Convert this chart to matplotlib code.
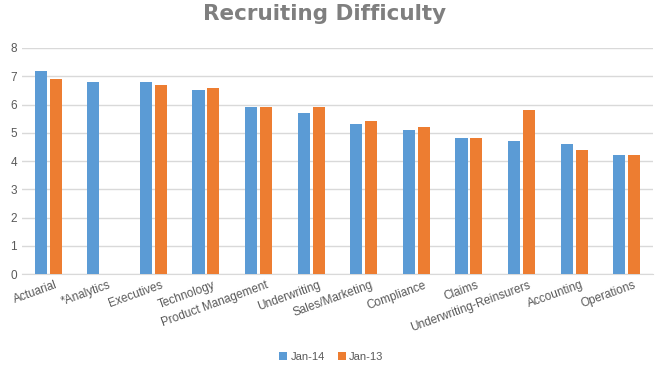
import numpy as np
import matplotlib.pyplot as plt
import matplotlib.transforms as mtransforms

categories = ['Actuarial', '*Analytics', 'Executives', 'Technology', 'Product Management',
              'Underwriting', 'Sales/Marketing', 'Compliance', 'Claims',
              'Underwriting-Reinsurers', 'Accounting', 'Operations']
jan14 = [7.2, 6.8, 6.8, 6.5, 5.9, 5.7, 5.3, 5.1, 4.8, 4.7, 4.6, 4.2]
jan13 = [6.9, np.nan, 6.7, 6.6, 5.9, 5.9, 5.4, 5.2, 4.8, 5.8, 4.4, 4.2]

blue = '#5b9bd5'
orange = '#ed7d31'
gray = '#595959'

plt.rcParams['font.family'] = ['Liberation Sans', 'DejaVu Sans']

fig = plt.figure(figsize=(6.63, 3.72), dpi=100)
ax = fig.add_axes([0.033, 0.263, 0.952, 0.608])

x = np.arange(len(categories))
w = 0.23
ax.bar(x - 0.142, jan14, w, color=blue, label='Jan-14', zorder=3)
ax.bar(x + 0.142, jan13, w, color=orange, label='Jan-13', zorder=3)

ax.set_xlim(-0.5, len(categories) - 0.5)
ax.set_ylim(0, 8)
ax.set_yticks(range(0, 9))
ax.yaxis.grid(True, color='#d9d9d9', linewidth=1, zorder=0)
for s in ['top', 'right', 'left']:
    ax.spines[s].set_visible(False)
ax.spines['bottom'].set_color('#d9d9d9')
ax.tick_params(axis='both', length=0, colors=gray, labelsize=8.5)
ax.set_xticks(x)
ax.set_xticklabels(categories, rotation=20, ha='right', rotation_mode='anchor')
# nudge the rotated labels a bit to the right, like the original
offset = mtransforms.ScaledTranslation(7 / 100, 0, fig.dpi_scale_trans)
for lbl in ax.get_xticklabels():
    lbl.set_transform(lbl.get_transform() + offset)

fig.suptitle('Recruiting Difficulty', x=0.489, y=0.99, fontsize=15.5, fontweight='bold',
             color='#7f7f7f', family='DejaVu Sans')
fig.legend(loc='lower center', bbox_to_anchor=(0.5, 0.0), ncol=2, frameon=False,
           fontsize=8, handlelength=0.7, handleheight=0.7, columnspacing=1.2,
           handletextpad=0.3, labelcolor=gray)

fig.savefig('out.png', dpi=100)
